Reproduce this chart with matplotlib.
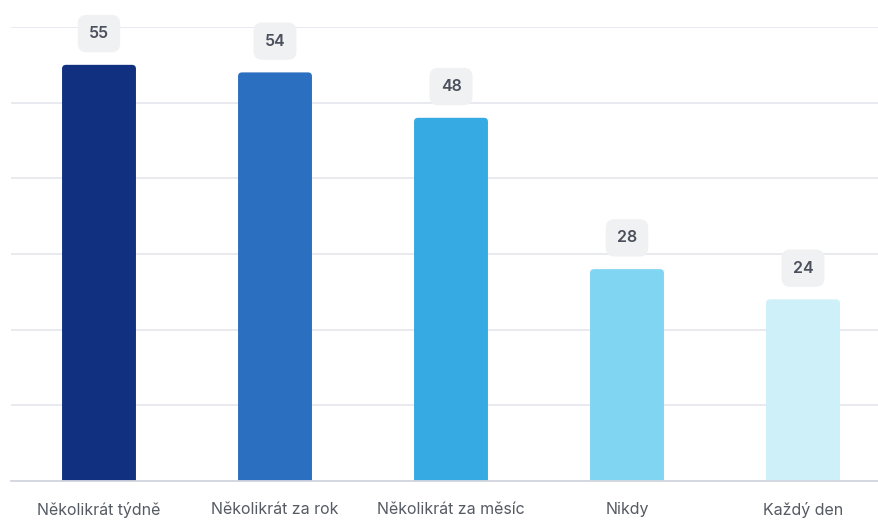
import matplotlib.pyplot as plt
from matplotlib.patches import FancyBboxPatch

categories = ["Několikrát týdně", "Několikrát za rok", "Několikrát za měsíc", "Nikdy", "Každý den"]
values = [55, 54, 48, 28, 24]
colors = ["#11307f", "#2b6fc0", "#36aae2", "#80d6f2", "#cdf0f9"]

plt.rcParams['font.family'] = ['Inter', 'DejaVu Sans']

fig = plt.figure(figsize=(8.79, 5.2), dpi=100)
# axes runs past the right edge, like the cropped original
ax = fig.add_axes([11 / 879, 39 / 520, 880 / 879, 454 / 520])

x = list(range(len(categories)))
bars = ax.bar(x, values, width=0.42, color=colors, zorder=2)

# rounded tops: swap each bar for a rounded box of the same geometry
px_x = 176.0  # pixels per x unit
px_y = 454.0 / 60  # pixels per y unit
r = 4.0 / px_x
for b, c in zip(bars, colors):
    b.set_visible(False)
    fb = FancyBboxPatch((b.get_x() + r, b.get_y() - 2), b.get_width() - 2 * r, b.get_height() + 2 - r * px_x / px_y,
                        boxstyle=f"round,pad={r},rounding_size={r}",
                        mutation_aspect=px_x / px_y, facecolor=c, edgecolor="none", zorder=2)
    ax.add_patch(fb)

for xi, v in zip(x, values):
    ax.annotate(str(v), (xi, v), xytext=(0, 22.5), textcoords="offset points",
                ha="center", va="center", fontsize=11.5, fontweight="semibold", color="#4b505c",
                bbox=dict(boxstyle="round,pad=0.7,rounding_size=0.55", fc="#f0f1f3", ec="none"),
                zorder=3)

ax.set_xlim(-0.5, 4.5)
ax.set_ylim(0, 60)
ax.set_yticks(range(0, 61, 10))
ax.yaxis.grid(True, color="#e6e8ee", linewidth=1.3, zorder=0)
ax.set_axisbelow(True)
ax.tick_params(axis="y", left=False, labelleft=False)
ax.set_xticks(x)
ax.set_xticklabels(categories, fontsize=11.5, color="#555a63")
ax.tick_params(axis="x", length=0, pad=15)
for s in ["top", "right", "left"]:
    ax.spines[s].set_visible(False)
ax.spines["bottom"].set_color("#d3d6df")
ax.spines["bottom"].set_linewidth(1.3)
ax.spines["bottom"].set_zorder(3)

fig.savefig("out.png", dpi=100)
